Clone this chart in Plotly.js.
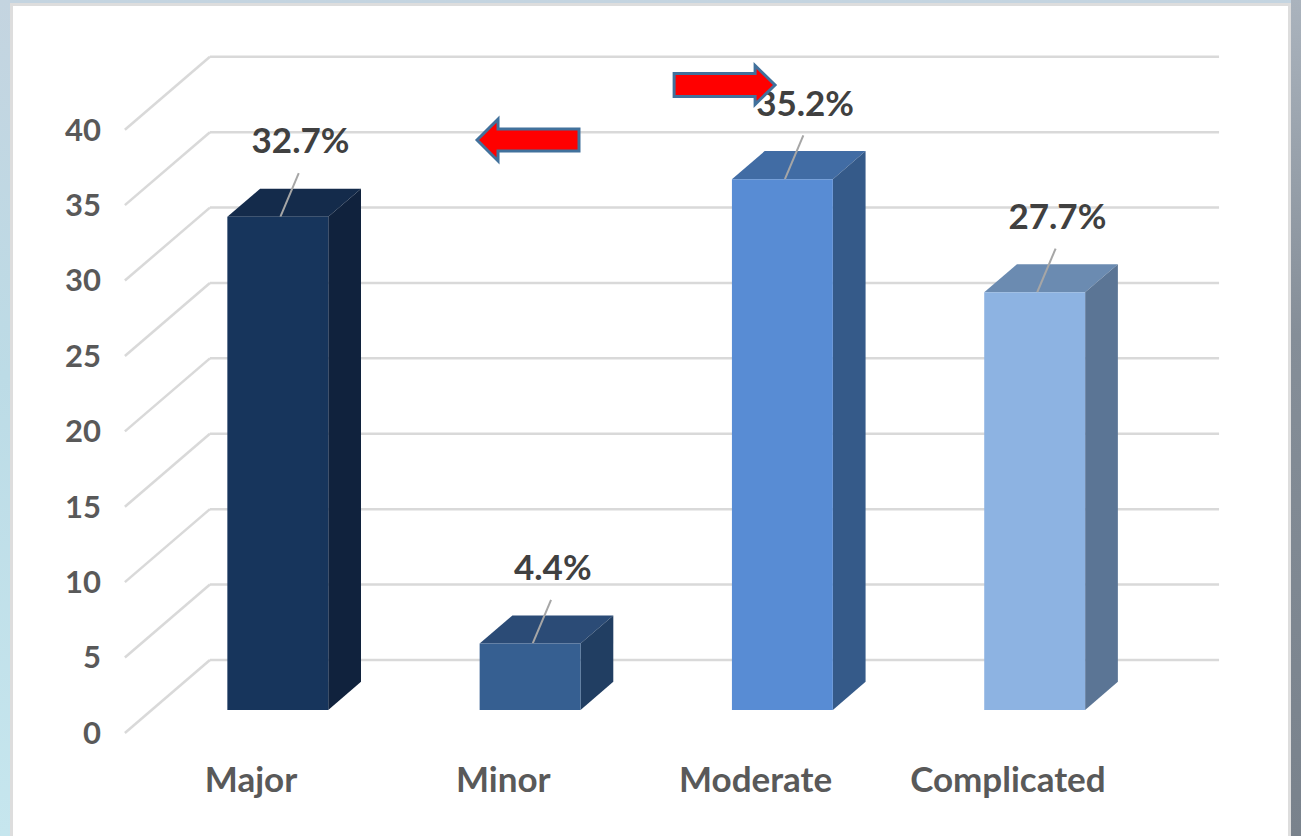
<!DOCTYPE html>
<html>
<head>
<meta charset="utf-8">
<script src="https://cdn.plot.ly/plotly-3.0.1.min.js"></script>
<style>
  html, body { margin: 0; padding: 0; width: 1301px; height: 836px; overflow: hidden; }
  body { background: linear-gradient(180deg, #c4d4e0 0%, #bcdbe6 45%, #c6e6ee 100%); position: relative; }
  #shade { position: absolute; left: 1291px; top: 0; width: 10px; height: 836px;
           background: linear-gradient(180deg, #aab3bd 0%, #858e98 40%, #79828c 100%); }
  #card { position: absolute; left: 10px; top: 3px; width: 1281px; height: 850px;
          background: #ffffff; border: 3px solid #dddddd; box-sizing: border-box; }
  #chart { position: absolute; left: 0; top: 0; width: 1301px; height: 836px; }
</style>
</head>
<body>
<div id="shade"></div>
<div id="card"></div>
<div id="chart"></div>
<script>
// Injury categories and their share (%)
const categories = ['Major', 'Minor', 'Moderate', 'Complicated'];
const percentages = [32.7, 4.4, 35.2, 27.7];
const yTickValues = [0, 5, 10, 15, 20, 25, 30, 35, 40];

// Face colours for each column: front, top, right side
const frontColors = ['#17355c', '#365f91', '#588cd4', '#8db3e2'];
const topColors   = ['#142b4b', '#2b4b76', '#416ca4', '#6b8bb1'];
const sideColors  = ['#10223d', '#213e62', '#355a89', '#5b7595'];

// Oblique projection of the 3-D box: moving one full unit of depth
// shifts a point right (in category units) and up (in value units).
const DEPTH_DX = 0.337;
const DEPTH_DY = 4.84;
const BAR_FRONT = 0.315;   // depth of column front faces
const BAR_BACK = 0.70;     // depth of column back faces
const BAR_WIDTH = 0.4;
const FLOOR_LEFT = -0.5, FLOOR_RIGHT = 3.5;

const GRID = '#d9d9d9';
const FONT = 'Lato, "Open Sans", sans-serif';

const shapes = [];

// back wall gridlines and left wall diagonals
yTickValues.forEach(v => {
  shapes.push({
    type: 'line', layer: 'below', xref: 'x', yref: 'y',
    x0: FLOOR_LEFT + DEPTH_DX, y0: v + DEPTH_DY,
    x1: FLOOR_RIGHT + DEPTH_DX, y1: v + DEPTH_DY,
    line: { color: GRID, width: 2.5 }
  });
  shapes.push({
    type: 'line', layer: 'below', xref: 'x', yref: 'y',
    x0: FLOOR_LEFT, y0: v,
    x1: FLOOR_LEFT + DEPTH_DX, y1: v + DEPTH_DY,
    line: { color: GRID, width: 2.5 }
  });
});

const baseY = BAR_FRONT * DEPTH_DY;
const barOffset = -BAR_WIDTH / 2 + BAR_FRONT * DEPTH_DX;
const dDX = (BAR_BACK - BAR_FRONT) * DEPTH_DX;
const dDY = (BAR_BACK - BAR_FRONT) * DEPTH_DY;

const poly = pts => 'M' + pts.map(p => p[0] + ',' + p[1]).join(' L') + ' Z';

const labelX = [], labelY = [], labelText = [];

percentages.forEach((val, i) => {
  const xl = i + barOffset, xr = xl + BAR_WIDTH;
  const top = baseY + val;
  // top face
  shapes.push({
    type: 'path', layer: 'below', xref: 'x', yref: 'y',
    path: poly([[xl, top], [xr, top], [xr + dDX, top + dDY], [xl + dDX, top + dDY]]),
    fillcolor: topColors[i], line: { width: 0 }
  });
  // right side face
  shapes.push({
    type: 'path', layer: 'below', xref: 'x', yref: 'y',
    path: poly([[xr, baseY], [xr + dDX, baseY + dDY], [xr + dDX, top + dDY], [xr, top]]),
    fillcolor: sideColors[i], line: { width: 0 }
  });
  // leader line from the column top to its label
  const xc = (xl + xr) / 2;
  shapes.push({
    type: 'line', layer: 'below', xref: 'x', yref: 'y',
    x0: xc + 0.01, y0: top, x1: xc + 0.083, y1: top + 2.9,
    line: { color: '#a6a6a6', width: 2 }
  });
  labelX.push(xc + 0.09);
  labelY.push(top + 4.8);
  labelText.push(val.toFixed(1) + '%');
});

// red block arrows
function blockArrow(xTail, xHeadBase, xTip, yc, bodyHalf, headHalf) {
  return {
    type: 'path', layer: 'above', xref: 'x', yref: 'y',
    path: poly([[xTail, yc - bodyHalf], [xHeadBase, yc - bodyHalf], [xHeadBase, yc - headHalf],
                [xTip, yc], [xHeadBase, yc + headHalf], [xHeadBase, yc + bodyHalf],
                [xTail, yc + bodyHalf]]),
    fillcolor: '#ff0000', line: { color: '#41719c', width: 3 }
  };
}
shapes.push(blockArrow(1.300, 0.979, 0.896, 39.32, 0.73, 1.39));
shapes.push(blockArrow(1.677, 1.998, 2.077, 42.97, 0.76, 1.29));

const traces = [
  {
    type: 'bar',
    x: categories.map((c, i) => i),
    y: percentages,
    base: baseY,
    width: BAR_WIDTH,
    offset: barOffset,
    marker: { color: frontColors, line: { width: 0 } },
    hoverinfo: 'skip',
    showlegend: false
  },
  {
    type: 'scatter',
    mode: 'text',
    x: labelX,
    y: labelY,
    text: labelText,
    textposition: 'middle center',
    textfont: { family: FONT, size: 35, color: '#404040', weight: 'bold' },
    hoverinfo: 'skip',
    showlegend: false
  }
];

const layout = {
  width: 1301,
  height: 836,
  margin: { l: 110, r: 61, t: 20, b: 80 },
  paper_bgcolor: 'rgba(0,0,0,0)',
  plot_bgcolor: 'rgba(0,0,0,0)',
  showlegend: false,
  xaxis: {
    range: [-0.559, 3.92],
    tickvals: categories.map((c, i) => i),
    ticktext: categories,
    showgrid: false, zeroline: false, showline: false, ticks: '',
    tickfont: { family: FONT, size: 35, color: '#595959', weight: 'bold' },
    fixedrange: true
  },
  yaxis: {
    range: [-1.53, 47.28],
    tickvals: yTickValues,
    showgrid: false, zeroline: false, showline: false, ticks: '',
    tickfont: { family: FONT, size: 31, color: '#595959', weight: 'bold' },
    ticklabelstandoff: 8,
    fixedrange: true
  },
  shapes: shapes
};

Plotly.newPlot('chart', traces, layout, { displayModeBar: false, staticPlot: true });
</script>
</body>
</html>
